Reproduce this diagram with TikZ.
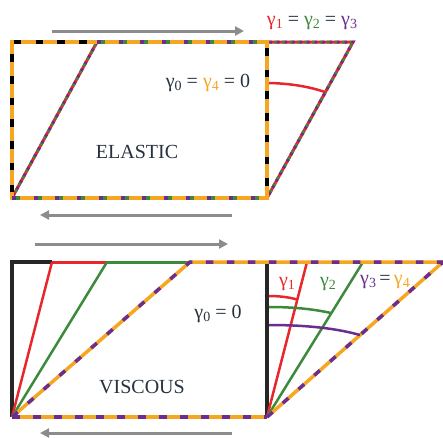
\documentclass[tikz,border=0pt]{standalone}
\usepackage{fontspec}
\setmainfont{Liberation Serif}
\usetikzlibrary{arrows.meta}
\definecolor{myorange}{HTML}{F5A623}
\definecolor{mypurple}{HTML}{6B2D8E}
\definecolor{mygreen}{HTML}{3C8A3C}
\definecolor{myred}{HTML}{E8262C}
\definecolor{mygray}{HTML}{8C8C8C}
\definecolor{txt}{HTML}{26323F}
\newcommand{\gm}[2]{\textcolor{#1}{γ\raisebox{-0.3ex}{\fontsize{14}{15}\selectfont #2}}}
\tikzset{
  orangebase/.style={draw=myorange, line width=4pt},
  blackdash/.style={draw=black, line width=4pt, dash pattern=on 7.5pt off 14.2pt, dash phase=-6pt},
  purpdash/.style={draw=mypurple, line width=4pt, dash pattern=on 4pt off 17.7pt},
  greendash/.style={draw=mygreen, line width=4pt, dash pattern=on 4pt off 17.7pt, dash phase=17.7pt},
  trired/.style={draw=myred, line width=3pt},
  trigreen/.style={draw=mygreen, line width=3pt, dash pattern=on 2.5pt off 5pt},
  tripurp/.style={draw=mypurple, line width=3pt, dash pattern=on 2.5pt off 5pt, dash phase=5pt},
  vpurp/.style={draw=mypurple, line width=3.5pt, dash pattern=on 7.5pt off 13.5pt},
  vorange/.style={draw=myorange, line width=3.5pt},
  blk/.style={draw=black!85, line width=3.5pt},
  thin/.style={line width=2.5pt},
  grayarrow/.style={draw=mygray, line width=3pt, -{Triangle[length=9pt,width=9pt]}},
  lbl/.style={inner sep=0pt, font=\fontsize{20}{22}\selectfont, text=txt},
}
\begin{document}
\begin{tikzpicture}[x=1pt,y=-1pt]
\useasboundingbox (0,0) rectangle (443,437);
% ---------- ELASTIC ----------
\coordinate (A) at (12,198);
\coordinate (B) at (12,42);
\coordinate (C) at (267,42);
\coordinate (D) at (267,198);
\coordinate (E) at (97,42);
\coordinate (F) at (353,42);
% parallelogram sides (tri colour)
\foreach \s in {trired,trigreen,tripurp}{
  \path[\s] (A) -- (E);
  \path[\s] (C) -- (F) -- (D);
}
% rectangle
\path[orangebase, line join=miter] (A) -- (B) -- (C) -- (D) -- cycle;
\path[blackdash] (A) -- (B) -- (E);
\path[blackdash] (C) -- (D);
\path[purpdash] (E) -- (C);
\path[greendash] (E) -- (C);
\path[purpdash] (A) -- (D);
\path[greendash] (A) -- (D);
% red arc
\coordinate (ea1) at (269,83);
\coordinate (ea2) at (325,92);
\draw[myred, thin] (ea1) .. controls (292,83.5) and (310,87) .. (ea2);
% arrows
\coordinate (ar1s) at (52,31); \coordinate (ar1e) at (244,31);
\draw[grayarrow] (ar1s) -- (ar1e);
\coordinate (ar2s) at (232,215); \coordinate (ar2e) at (40,215);
\draw[grayarrow] (ar2s) -- (ar2e);
% labels
\node[lbl] (g123) at (312,23) {\gm{myred}{1} = \gm{mygreen}{2} = \gm{mypurple}{3}};
\node[lbl] (g04) at (208,83) {\gm{txt}{0} = \gm{myorange}{4} = 0};
\node[lbl] (el) at (137,152) {ELASTIC};
% ---------- VISCOUS ----------
\coordinate (G) at (12,417);
\coordinate (H) at (12,262);
\coordinate (I) at (267,262);
\coordinate (J) at (267,417);
\coordinate (K) at (52,262);
\coordinate (L) at (107,262);
\coordinate (M) at (190,262);
\coordinate (N) at (307,262);
\coordinate (O) at (363,262);
\coordinate (P) at (443,262);
\path[blk, line join=miter] (G) -- (H) -- (K);
\path[blk] (I) -- (J);
\draw[myred, thin] (G) -- (K);
\draw[myred, line width=3pt] (K) -- (L);
\draw[myred, thin] (J) -- (N);
\draw[mygreen, thin] (G) -- (L);
\draw[mygreen, line width=3pt] (L) -- (M);
\draw[mygreen, thin] (J) -- (O);
\path[vorange] (G) -- (M) -- (P);
\path[vorange] (J) -- (P);
\path[vorange] (G) -- (J);
\path[vpurp] (G) -- (M) -- (P);
\path[vpurp] (J) -- (P);
\path[vpurp] (G) -- (J);
% arcs
\coordinate (va1) at (269,296); \coordinate (vb1) at (297,299.5);
\draw[myred, thin] (va1) .. controls (281,296) and (290,297.5) .. (vb1);
\coordinate (va2) at (269,307); \coordinate (vb2) at (331,313);
\draw[mygreen, thin] (va2) .. controls (293,307) and (313,309) .. (vb2);
\coordinate (va3) at (269,325); \coordinate (vb3) at (360,335);
\draw[mypurple, thin] (va3) .. controls (305,325) and (335,328) .. (vb3);
% arrows
\coordinate (ar3s) at (35,244); \coordinate (ar3e) at (228,244);
\draw[grayarrow] (ar3s) -- (ar3e);
\coordinate (ar4s) at (232,433); \coordinate (ar4e) at (40,433);
\draw[grayarrow] (ar4s) -- (ar4e);
% labels
\node[lbl] (vg1) at (287,284) {\gm{myred}{1}};
\node[lbl] (vg2) at (328,284) {\gm{mygreen}{2}};
\node[lbl] (vg34) at (385,282) {\gm{mypurple}{3}\,=\,\gm{myorange}{4}};
\node[lbl] (vg0) at (218,314) {\gm{txt}{0} = 0};
\node[lbl] (vi) at (142,387) {VISCOUS};
\end{tikzpicture}
\end{document}
